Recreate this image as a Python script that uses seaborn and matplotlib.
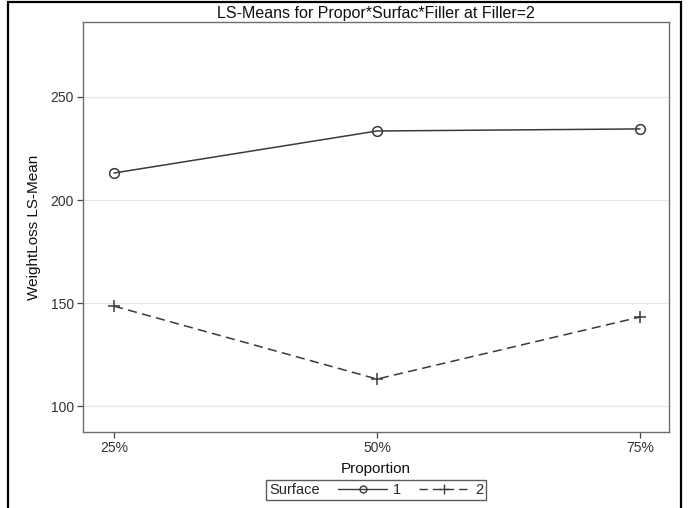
import matplotlib
matplotlib.use("Agg")
import matplotlib.pyplot as plt
from matplotlib.patches import Rectangle
from matplotlib.lines import Line2D
import seaborn as sns
import pandas as pd

# LS-means of WeightLoss by Proportion for each Surface (Filler = 2)
proportion = [25, 50, 75]
proportion_labels = ["25%", "50%", "75%"]
surface_1 = [213.1, 233.5, 234.5]
surface_2 = [148.5, 113.1, 143.2]
y_ticks = [100, 150, 200, 250]

df1 = pd.DataFrame({"Proportion": proportion, "WeightLoss": surface_1})
df2 = pd.DataFrame({"Proportion": proportion, "WeightLoss": surface_2})

sns.set_theme(style="white")
plt.rcParams["font.family"] = ["Liberation Sans", "DejaVu Sans"]

W, H = 688, 508
fig = plt.figure(figsize=(W / 100, H / 100), dpi=100)
ax = fig.add_axes([83 / W, 1 - 432 / H, (669 - 83) / W, (432 - 22) / H])

line_color = "#3a3a3a"
dash_pattern = (0, (6, 3.5))
sns.lineplot(data=df1, x="Proportion", y="WeightLoss", color=line_color,
             marker="o", markersize=7, markerfacecolor="none",
             markeredgecolor=line_color, markeredgewidth=1.1,
             linewidth=1.1, ax=ax, legend=False)
sns.lineplot(data=df2, x="Proportion", y="WeightLoss", color=line_color,
             marker="+", markersize=8, markeredgecolor=line_color,
             markeredgewidth=1.1, linestyle=dash_pattern,
             linewidth=1.1, ax=ax, legend=False)

ax.set_xlim(22.05, 77.76)
ax.set_ylim(87.4, 286.4)
ax.set_xticks(proportion)
ax.set_xticklabels(proportion_labels)
ax.set_yticks(y_ticks)
for yv in y_ticks:
    ax.axhline(yv, color="#e6e6e6", linewidth=0.9, zorder=0)

for s in ax.spines.values():
    s.set_color("#6e6e6e")
    s.set_linewidth(1.0)
ax.tick_params(axis="both", which="both", direction="out", length=4,
               width=0.9, color="#444444", labelsize=10,
               labelcolor="#333333", pad=2.5, bottom=True, left=True)

ax.set_xlabel("Proportion", fontsize=11, color="#111111", labelpad=5)
ax.set_ylabel("WeightLoss LS-Mean", fontsize=11, color="#111111", labelpad=7)
ax.set_title("LS-Means for Propor*Surfac*Filler at Filler=2", fontsize=11.5,
             color="#111111", pad=3)

# Legend with its title placed to the left of the entries
handles = [
    Line2D([], [], color=line_color, linewidth=1.0, marker="o",
           markerfacecolor="none", markersize=5),
    Line2D([], [], color=line_color, linewidth=1.0, marker="+",
           linestyle=dash_pattern, markersize=7),
]
leg = ax.legend(handles, ["1", "2"], title="Surface", ncol=2,
                loc="center", bbox_to_anchor=(0.5, (432 - 490) / 410),
                frameon=True, fancybox=False, edgecolor="#333333",
                fontsize=10.5, title_fontsize=10.5, handlelength=3.4,
                handletextpad=0.4, columnspacing=0.8, borderpad=0.2,
                borderaxespad=0)
leg.get_frame().set_linewidth(1.0)
box = leg.get_children()[0]
title_box = box.get_children()[0]
hpack = box.get_children()[1]
box._children = [hpack]
hpack._children = [title_box] + hpack.get_children()
hpack.sep = 13

# Outer border of the graph
fig.patches.append(Rectangle((8 / W, -0.02), (681 - 8) / W, 1.02 - 2 / H,
                             transform=fig.transFigure, fill=False,
                             edgecolor="black", linewidth=1.6))

fig.savefig("out.png", dpi=100)
